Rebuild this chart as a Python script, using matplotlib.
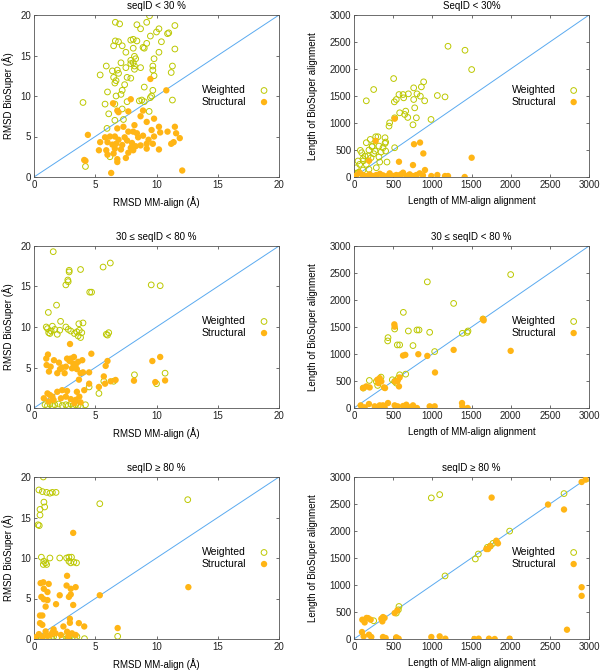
import matplotlib
matplotlib.use("Agg")
import matplotlib.pyplot as plt

plt.rcParams['font.family'] = ['Liberation Sans', 'DejaVu Sans']

# ---- data ----
# row 1 : seqID < 30 %
rmsd_lt30_w_x = [6.64, 6.99, 8.4, 9.2, 9.43, 8.7, 10.0, 10.2, 10.9, 11.0, 11.5, 9.5, 8.1, 8.4, 7.9, 6.64,
                 6.9, 6.5, 7.2, 9.2, 10.4, 8.1, 8.9, 9.0, 7.5, 10.2, 11.5, 8.2, 8.3, 9.8, 7.9, 8.1, 7.9,
                 7.1, 8.2, 8.7, 7.5, 8.2, 9.7, 11.3, 5.9, 6.4, 6.8, 6.9, 5.4, 11.2, 9.7, 6.5, 7.6, 6.7,
                 7.9, 7.4, 6.6, 9.8, 9.0, 6.0, 7.2, 9.7, 6.7, 7.1, 9.5, 9.6, 4.0, 5.8, 7.6, 8.6, 8.8,
                 9.0, 11.3, 6.6, 7.2, 9.4, 6.1, 6.6, 7.3, 5.96, 4.2, 6.2]
rmsd_lt30_w_y = [19.1, 18.9, 18.8, 19.1, 19.9, 18.3, 17.9, 18.3, 17.7, 17.8, 18.7, 17.4, 17.0, 16.8, 16.9,
                 16.8, 16.7, 16.2, 16.2, 16.5, 16.7, 15.9, 16.0, 15.9, 15.4, 15.4, 15.8, 14.9, 14.6, 14.6,
                 14.4, 14.1, 14.0, 14.1, 13.7, 13.5, 13.5, 13.3, 13.7, 13.7, 13.7, 13.1, 13.2, 12.8, 12.6,
                 12.9, 13.2, 12.3, 12.3, 11.9, 12.2, 11.4, 11.6, 12.5, 11.1, 10.5, 10.7, 10.7, 10.0, 10.2,
                 9.8, 10.0, 9.2, 9.0, 9.3, 9.4, 9.5, 9.3, 9.5, 9.0, 8.4, 8.1, 7.8, 7.0, 7.1, 6.0, 1.3, 2.5]
rmsd_lt30_s_x = [9.5, 10.8, 7.9, 6.45, 6.8, 6.9, 7.7, 8.9, 8.7, 9.8, 9.2, 8.2, 6.8, 7.3, 10.2, 11.5, 8.1,
                 7.7, 9.6, 10.9, 10.3, 11.6, 4.4, 5.8, 6.2, 6.6, 6.9, 7.4, 7.6, 8.5, 8.9, 9.35, 9.8, 11.9,
                 5.4, 6.0, 6.4, 6.7, 7.2, 8.0, 8.3, 8.7, 9.2, 9.7, 11.2, 11.4, 5.9, 6.6, 7.1, 7.7, 8.1,
                 10.2, 5.3, 6.0, 6.5, 6.8, 6.8, 7.5, 4.1, 4.2, 6.3, 12.1, 8.4, 7.9, 9.2]
rmsd_lt30_s_y = [12.1, 10.7, 9.6, 9.1, 8.2, 8.0, 8.1, 8.2, 7.5, 7.2, 6.8, 6.4, 6.0, 6.2, 6.2, 6.2, 5.6, 5.6,
                 5.8, 5.6, 5.5, 5.4, 5.2, 4.9, 5.0, 5.0, 4.6, 4.9, 4.5, 4.9, 5.1, 4.6, 5.0, 4.8, 4.3, 4.3,
                 4.0, 4.1, 3.95, 4.2, 3.8, 3.9, 4.1, 4.1, 4.1, 4.3, 3.3, 3.5, 3.4, 3.0, 3.3, 3.4, 3.3,
                 2.75, 2.9, 2.2, 1.85, 2.35, 2.1, 2.0, 0.5, 0.8, 5.4, 3.6, 3.5]

len_lt30_w_x = [1200, 1417, 1502, 506, 251, 157, 889, 860, 762, 804, 847, 694, 574, 540, 515, 634, 626, 762,
                902, 1064, 1162, 775, 660, 647, 583, 686, 796, 753, 983, 519, 455, 447, 306, 277, 396, 404,
                370, 319, 234, 191, 251, 81, 140, 319, 421, 217, 115, 51, 157, 72, 30, 115, 191, 285, 98,
                268, 404, 345, 519, 396, 208, 328, 157, 120, 60, 180, 230, 40]
len_lt30_w_y = [2421, 2347, 1990, 1823, 1620, 1411, 1762, 1669, 1651, 1540, 1497, 1540, 1527, 1435, 1392,
                1466, 1527, 1435, 1411, 1509, 1484, 1281, 1220, 1158, 1189, 1103, 1096, 967, 1066, 1096,
                1004, 942, 745, 745, 727, 647, 542, 573, 573, 499, 431, 493, 388, 370, 277, 357, 339, 296,
                234, 234, 172, 129, 142, 172, 450, 481, 481, 462, 542, 622, 696, 277, 635, 300, 90, 390,
                560, 60]
len_lt30_s_x = [519, 277, 766, 843, 885, 574, 1502, 753, 906, 987, 1064, 1162, 1200, 1413, 72, 200, 285, 370,
                455, 540, 626, 711, 796, 838, 668, 157, 30, 243, 434, 583, 753, 192, 110, 330, 500, 600,
                880, 410, 690]
len_lt30_s_y = [1080, 668, 607, 638, 436, 282, 357, 221, 129, 18, 37, 18, 18, 0, 80, 49, 37, 31, 68, 37, 80,
                49, 37, 68, 18, 18, 31, 18, 18, 31, 18, 300, 40, 60, 20, 50, 30, 10, 25]

# row 2 : 30 <= seqID < 80 %
rmsd_mid_w_x = [1.57, 2.87, 2.87, 3.8, 5.64, 6.23, 2.76, 2.79, 2.6, 9.57, 10.3, 4.55, 4.7, 1.84, 1.17, 2.17,
                3.66, 4.0, 1.0, 1.2, 1.4, 1.5, 1.7, 1.9, 2.1, 2.6, 2.8, 3.0, 3.3, 3.5, 3.6, 3.7, 3.8, 3.9,
                5.9, 6.1, 6.0, 1.1, 1.3, 0.9, 1.1, 1.3, 1.5, 1.7, 2.0, 2.3, 2.6, 2.8, 3.0, 3.2, 3.4, 3.6,
                3.8, 4.2, 5.3, 6.5, 8.2, 10.0, 10.7, 4.5, 5.7]
rmsd_mid_w_y = [19.3, 17.0, 16.8, 17.1, 17.4, 17.9, 15.8, 15.6, 15.2, 15.2, 15.1, 14.3, 14.3, 12.7, 11.8,
                10.7, 10.4, 10.5, 10.0, 9.3, 9.5, 10.1, 9.7, 9.1, 9.6, 10.0, 9.7, 9.5, 9.2, 9.4, 8.9, 9.6,
                8.7, 9.3, 9.1, 9.3, 9.0, 9.8, 9.2, 0.4, 0.3, 0.5, 0.3, 0.4, 0.5, 0.3, 0.4, 0.3, 0.5, 0.3,
                0.4, 0.3, 0.2, 0.4, 1.8, 3.3, 4.1, 3.0, 4.3, 2.6, 3.3]
rmsd_mid_s_x = [2.94, 1.14, 1.03, 1.36, 1.22, 1.63, 2.04, 2.12, 2.3, 2.6, 2.7, 2.99, 3.26, 3.2, 3.4, 3.6,
                3.94, 3.5, 3.8, 2.5, 1.9, 4.68, 5.85, 6.0, 4.0, 4.5, 3.67, 5.7, 5.3, 5.8, 6.26, 6.66, 8.16,
                9.66, 4.5, 1.1, 1.5, 1.9, 2.3, 2.7, 3.5, 4.1, 0.8, 1.2, 1.6, 2.2, 2.6, 3.0, 3.4, 3.7, 3.3,
                3.8, 10.3, 9.9, 10.7, 1.0, 1.3, 2.9, 3.1]
rmsd_mid_s_y = [7.9, 6.6, 5.3, 5.1, 4.5, 5.9, 5.6, 4.8, 5.0, 5.1, 6.1, 6.1, 6.3, 5.5, 5.3, 5.7, 5.9, 4.8, 4.3,
                4.3, 4.3, 6.7, 5.2, 5.8, 4.4, 4.4, 3.5, 3.9, 2.6, 3.0, 3.3, 3.46, 3.37, 5.8, 3.0, 1.8, 1.4,
                2.0, 2.2, 2.1, 2.0, 2.2, 1.2, 0.8, 1.0, 1.2, 1.4, 1.1, 1.0, 1.4, 0.6, 0.7, 6.3, 3.2, 3.4,
                6.1, 1.6, 5.8, 4.9]

len_mid_w_x = [936, 1272, 2000, 630, 519, 434, 430, 694, 804, 830, 966, 1383, 1455, 1445, 753, 553, 583, 1030,
               660, 196, 119, 285, 345, 302, 519, 540, 566, 583, 489, 1647]
len_mid_w_y = [2336, 1937, 2471, 1771, 1463, 1303, 1242, 1426, 1445, 1445, 1402, 1383, 1426, 1400, 1156,
               1168, 1168, 1045, 627, 510, 369, 492, 572, 418, 492, 461, 553, 615, 523, 1648]
len_mid_s_x = [515, 519, 1647, 1655, 1272, 2000, 626, 655, 821, 936, 1034, 115, 157, 200, 298, 328, 311, 349,
               383, 396, 523, 557, 583, 574, 85, 191, 264, 328, 391, 434, 519, 557, 647, 702, 753, 804, 966,
               1030, 1379, 1383, 1451, 370, 285, 136, 626, 668]
len_mid_s_y = [1549, 1506, 1648, 1623, 1076, 1058, 971, 984, 996, 965, 658, 369, 400, 381, 523, 553, 461, 492,
               381, 369, 492, 504, 566, 400, 49, 74, 31, 49, 12, 92, 49, 31, 12, 12, 49, 0, 31, 31, 92,
               31, 0, 49, 12, 12, 37, 61]

# row 3 : seqID >= 80 %
rmsd_hi_w_x = [0.76, 0.4, 0.68, 1.03, 1.3, 1.5, 1.8, 0.81, 0.87, 0.49, 0.49, 0.33, 0.43, 5.37, 12.55, 0.6,
               1.3, 0.8, 0.95, 1.03, 0.76, 2.1, 2.66, 2.85, 3.06, 2.85, 3.0, 3.25, 3.47, 6.83, 4.12, 0.2,
               0.4, 0.6, 0.9, 1.1, 1.4, 1.6, 1.9, 2.3, 2.6, 2.8, 3.0, 3.3, 3.5]
rmsd_hi_w_y = [20.0, 18.4, 18.2, 18.1, 18.0, 18.1, 18.1, 16.9, 16.3, 16.0, 15.3, 14.1, 14.0, 16.7, 17.2, 10.1,
               10.0, 9.6, 9.4, 9.2, 9.2, 10.0, 10.0, 10.1, 10.1, 9.6, 9.4, 9.5, 9.4, 0.33, 0.04, 0.2, 0.3,
               0.1, 0.3, 0.2, 0.1, 0.3, 0.2, 0.1, 0.3, 0.2, 0.4, 0.1, 0.3]
rmsd_hi_s_x = [3.2, 0.54, 0.76, 1.2, 0.8, 1.1, 0.6, 0.8, 1.1, 0.95, 2.1, 1.8, 2.7, 2.66, 3.0, 3.4, 2.85, 3.0,
               3.2, 5.37, 12.6, 6.83, 0.49, 0.68, 0.49, 0.68, 0.95, 2.93, 2.93, 3.66, 4.1, 2.4, 1.6, 1.76,
               2.7, 3.1, 0.0, 0.1, 1.1, 1.35, 2.2, 3.4, 0.4, 0.7, 1.5, 2.8]
rmsd_hi_s_y = [13.1, 6.9, 7.0, 6.8, 6.2, 5.8, 5.2, 4.9, 4.8, 4.0, 5.4, 4.3, 7.8, 6.6, 6.2, 6.4, 5.2, 5.5, 4.2,
               5.4, 6.4, 1.35, 2.9, 2.9, 1.96, 1.75, 0.94, 2.5, 2.0, 1.96, 1.55, 1.55, 1.2, 0.7, 0.9, 0.7,
               0.0, 0.2, 0.4, 0.5, 0.5, 0.5, 0.6, 0.3, 0.8, 0.3]

len_hi_w_x = [987, 1094, 2681, 1987, 1817, 1774, 1702, 1549, 1587, 1162, 574, 540, 566, 251, 2974, 1740]
len_hi_w_y = [2613, 2674, 2693, 1998, 1801, 1771, 1697, 1482, 1574, 1168, 602, 480, 541, 338, 2970, 1720]
len_hi_s_x = [1757, 2477, 2681, 2906, 2957, 2906, 2906, 2719, 1838, 1817, 1740, 1711, 1689, 553, 519, 370, 349,
              362, 106, 179, 213, 136, 102, 123, 221, 370, 404, 540, 570, 987, 1094, 1166, 1536, 1591,
              1723, 1796, 1987, 191, 390, 160]
len_hi_s_y = [2619, 2490, 2398, 2908, 2951, 959, 799, 172, 1771, 1820, 1721, 1666, 1666, 529, 480, 406, 375,
              326, 357, 387, 357, 307, 129, 49, 37, 37, 18, 31, 6, 37, 49, 6, 0, 6, 6, 0, 6, 80, 390, 390]

titles = ["seqID < 30 %", "SeqID < 30%",
          "30 \u2264 seqID < 80 %", "30 \u2264 seqID < 80 %",
          "seqID \u2265 80 %", "seqID \u2265 80 %"]

W_COL = "#bcc800"
S_COL = "#ffb515"
LINE_COL = "#5aaaf0"

fig = plt.figure(figsize=(6.0, 6.7), dpi=100)

rows_bottom = [1 - 177 / 670, 1 - 408 / 670, 1 - 639 / 670]
row_h = 162 / 670
left_l, left_w = 34 / 600, 245 / 600
right_l, right_w = 354 / 600, 235 / 600

panels = [
    (rmsd_lt30_w_x, rmsd_lt30_w_y, rmsd_lt30_s_x, rmsd_lt30_s_y),
    (len_lt30_w_x, len_lt30_w_y, len_lt30_s_x, len_lt30_s_y),
    (rmsd_mid_w_x, rmsd_mid_w_y, rmsd_mid_s_x, rmsd_mid_s_y),
    (len_mid_w_x, len_mid_w_y, len_mid_s_x, len_mid_s_y),
    (rmsd_hi_w_x, rmsd_hi_w_y, rmsd_hi_s_x, rmsd_hi_s_y),
    (len_hi_w_x, len_hi_w_y, len_hi_s_x, len_hi_s_y),
]

for i, (wx, wy, sx, sy) in enumerate(panels):
    row, col = divmod(i, 2)
    if col == 0:
        ax = fig.add_axes([left_l, rows_bottom[row], left_w, row_h])
        lim, step = 20, 5
        ax.set_xlabel("RMSD MM-align (\u00c5)", fontsize=7)
        ax.set_ylabel("RMSD BioSuper (\u00c5)", fontsize=7)
        ax.yaxis.set_label_coords(-0.08, 0.5)
        leg_x = 0.685
    else:
        ax = fig.add_axes([right_l, rows_bottom[row], right_w, row_h])
        lim, step = 3000, 500
        ax.set_xlabel("Length of MM-align alignment", fontsize=7)
        ax.set_ylabel("Length of BioSuper alignment", fontsize=7)
        ax.yaxis.set_label_coords(-0.152, 0.5)
        leg_x = 0.67
    ax.xaxis.set_label_coords(0.5, -0.12)

    ax.plot([0, lim], [0, lim], color=LINE_COL, lw=0.7, zorder=1)
    ax.scatter(wx, wy, s=17, facecolors="none", edgecolors=W_COL, linewidths=0.7,
               label="Weighted", zorder=2)
    ax.scatter(sx, sy, s=21, color=S_COL, edgecolors="none", label="Structural", zorder=3)

    ax.set_xlim(0, lim)
    ax.set_ylim(0, lim)
    ax.set_xticks(range(0, lim + 1, step))
    ax.set_yticks(range(0, lim + 1, step))
    ax.tick_params(direction="in", length=2.5, width=0.5, labelsize=7, pad=2,
                   top=True, right=True, colors="#333333", labelcolor="#222222")
    for sp in ax.spines.values():
        sp.set_linewidth(0.6)
        sp.set_color("#555555")

    ax.set_title(titles[i], fontsize=7, pad=4)
    ax.legend(loc="center left", bbox_to_anchor=(leg_x, 0.5), frameon=False, markerfirst=False,
              fontsize=7.5, handlelength=1.0, handletextpad=1.2, labelspacing=0.15,
              borderpad=0, borderaxespad=0, scatterpoints=1)

fig.savefig("out.png", dpi=100)
